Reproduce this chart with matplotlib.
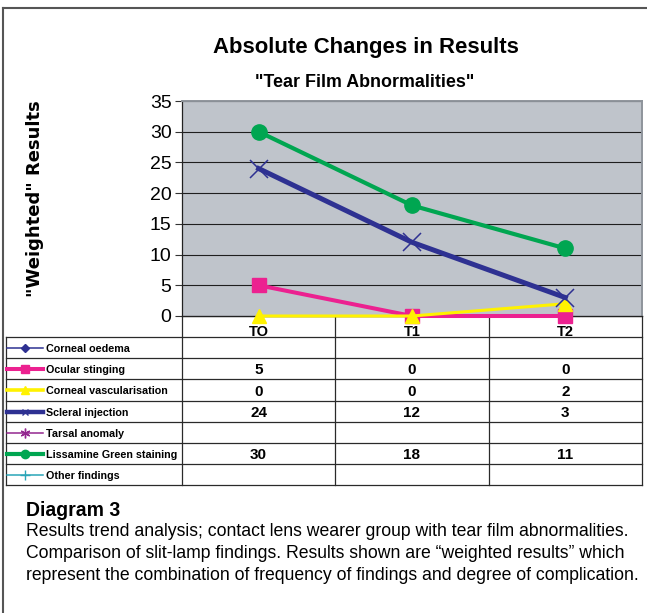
import math
import matplotlib
matplotlib.use('Agg')
import matplotlib.pyplot as plt
from matplotlib import font_manager as fm
from matplotlib.transforms import blended_transform_factory

# ---------------- data ----------------
categories = ['TO', 'T1', 'T2']
series_names = ['Corneal oedema', 'Ocular stinging', 'Corneal vascularisation',
                'Scleral injection', 'Tarsal anomaly', 'Lissamine Green staining',
                'Other findings']
corneal_oedema = [None, None, None]
ocular_stinging = [5, 0, 0]
corneal_vascularisation = [0, 0, 2]
scleral_injection = [24, 12, 3]
tarsal_anomaly = [None, None, None]
lissamine_green = [30, 18, 11]
other_findings = [None, None, None]
y_ticks = [0, 5, 10, 15, 20, 25, 30, 35]

title = 'Absolute Changes in Results'
subtitle = '"Tear Film Abnormalities"'
y_label = '"Weighted" Results'
caption_head = 'Diagram 3'
caption_lines = [
    'Results trend analysis; contact lens wearer group with tear film abnormalities.',
    'Comparison of slit-lamp findings. Results shown are \u201cweighted results\u201d which',
    'represent the combination of frequency of findings and degree of complication.',
]

series_values = [corneal_oedema, ocular_stinging, corneal_vascularisation,
                 scleral_injection, tarsal_anomaly, lissamine_green, other_findings]

# ---------------- styles ----------------
styles = [
    dict(color='#2E3192', lw=1.1, marker='D', ms=4.5, leg_lw=1.1, leg_ms=4.5, mew=1),
    dict(color='#EC2190', lw=2.9, marker='s', ms=10.5, leg_lw=2.9, leg_ms=6, mew=1),
    dict(color='#FFF200', lw=2.2, marker='^', ms=9.5, leg_lw=2.6, leg_ms=6, mew=1),
    dict(color='#2E3192', lw=3.6, marker='x', ms=13, leg_lw=3.2, leg_ms=5, mew=1.1),
    dict(color='#93278F', lw=1.1, marker=(6, 2, 0), ms=7, leg_lw=1.1, leg_ms=7, mew=1),
    dict(color='#00A651', lw=3.0, marker='o', ms=11, leg_lw=3.0, leg_ms=6, mew=1),
    dict(color='#2AA5B8', lw=1.1, marker='+', ms=7, leg_lw=1.1, leg_ms=7, mew=1),
]

names = {f.name for f in fm.fontManager.ttflist}
NARROW = 'Liberation Sans Narrow' if 'Liberation Sans Narrow' in names else 'Liberation Sans'
REG = 'Liberation Sans'

W, H = 647, 613
fig = plt.figure(figsize=(W / 100, H / 100), dpi=100)
renderer = fig.canvas.get_renderer()


def fit_width(t, width):
    w = t.get_window_extent(renderer).width
    t.set_fontsize(t.get_fontsize() * width / w)
    return t.get_fontsize()


def fit_height(t, height):
    h = t.get_window_extent(renderer).height
    t.set_fontsize(t.get_fontsize() * height / h)
    return t.get_fontsize()


# overlay axes in pixel coordinates
ov = fig.add_axes([0, 0, 1, 1], zorder=0)
ov.set_xlim(0, W)
ov.set_ylim(H, 0)
ov.axis('off')

# main plot axes
PL, PR, PT, PB = 182, 642, 101, 316
ax = fig.add_axes([PL / W, 1 - PB / H, (PR - PL) / W, (PB - PT) / H], zorder=2)
ax.set_facecolor('#BFC4CB')
ax.set_xlim(-0.5, len(categories) - 0.5)
ax.set_ylim(0, 35)
ax.set_yticks(y_ticks)
ax.set_xticks([])
ax.yaxis.grid(True, color='#1e1e1e', lw=0.8)
ax.set_axisbelow(True)
for s in ['left', 'bottom']:
    ax.spines[s].set_color('#222222')
    ax.spines[s].set_linewidth(0.9)
for s in ['top', 'right']:
    ax.spines[s].set_color('#8E949B')
    ax.spines[s].set_linewidth(1.4)
ax.tick_params(axis='y', direction='out', length=5, width=0.8, color='#333333',
               pad=2.5, labelsize=14)
for lab in ax.get_yticklabels():
    lab.set_family(REG)

xs = list(range(len(categories)))
for i, (vals, st) in enumerate(zip(series_values, styles)):
    yv = [math.nan if v is None else v for v in vals]
    ax.plot(xs, yv, color=st['color'], lw=st['lw'], marker=st['marker'], ms=st['ms'],
            mew=st['mew'], mec=st['color'], mfc=st['color'], clip_on=False, zorder=3 + i,
            solid_joinstyle='round')

# ---------------- table ----------------
LINE = '#2a2a2a'
row_edges = [337, 358, 379, 401, 422, 443, 464, 485]
TL = 6
ov.plot([PL, PR], [PB, PB], color=LINE, lw=0.9)
for y in row_edges:
    ov.plot([TL, PR], [y, y], color=LINE, lw=0.9)
ov.plot([TL, TL], [row_edges[0], row_edges[-1]], color=LINE, lw=0.9)
ov.plot([PL, PL], [PB, row_edges[-1]], color=LINE, lw=0.9)
ov.plot([PR, PR], [PB, row_edges[-1]], color=LINE, lw=0.9)
bt = blended_transform_factory(ax.transData, ov.transData)
for b in [0.5, 1.5]:
    ov.plot([b, b], [PB, row_edges[-1]], color=LINE, lw=0.9, transform=bt)

# header labels (drawn above the plot so markers never hide them)
top = fig.add_axes([0, 0, 1, 1], zorder=5)
top.set_xlim(0, W)
top.set_ylim(H, 0)
top.axis('off')
bt_top = blended_transform_factory(ax.transData, top.transData)
for j, c in enumerate(categories):
    top.text(j, 336, c, transform=bt_top, ha='center', va='baseline', family=NARROW,
             fontweight='bold', fontsize=10.5)

# row labels + legend keys + values
probe = ov.text(46, 0, 'Lissamine Green staining', family=NARROW, fontweight='bold',
                fontsize=10)
lab_fs = fit_width(probe, 132)
probe.remove()
for i, (name, vals, st) in enumerate(zip(series_names, series_values, styles)):
    yc = (row_edges[i] + row_edges[i + 1]) / 2
    ov.plot([7, 25, 43], [yc, yc, yc], color=st['color'], lw=st['leg_lw'],
            marker=st['marker'], ms=st['leg_ms'], markevery=[1], mec=st['color'],
            mfc=st['color'], mew=1)
    ov.text(46, yc + 4.5, name, family=NARROW, fontweight='bold', fontsize=lab_fs,
            va='baseline', ha='left')
    for j, v in enumerate(vals):
        if v is not None:
            ov.text(j, yc + 5.5, str(v), transform=bt, ha='center', va='baseline',
                    family=NARROW, fontweight='bold', fontsize=11)

# ---------------- titles ----------------
t = ov.text(366, 53, title, ha='center', va='baseline', family=NARROW,
            fontweight='bold', fontsize=16)
fit_width(t, 305)
t = ov.text(365, 87, subtitle, ha='center', va='baseline', family=NARROW,
            fontweight='bold', fontsize=12)
fit_width(t, 217)
t = ov.text(35, 198.5, y_label, ha='center', va='center', rotation=90,
            family='DejaVu Sans', fontweight='bold', fontsize=12)
fit_height(t, 197)

# ---------------- caption ----------------
t = ov.text(26, 516, caption_head, ha='left', va='baseline', family=NARROW,
            fontweight='bold', fontsize=12)
fit_width(t, 94)
probes = [ov.text(0, 0, line, family=NARROW, fontsize=12) for line in caption_lines]
widest = max(p.get_window_extent(renderer).width for p in probes)
cfs = 12 * 614 / widest
for p in probes:
    p.remove()
for k, line in enumerate(caption_lines):
    ov.text(26, 536.5 + 22 * k, line, ha='left', va='baseline', family=NARROW,
            fontsize=cfs)

# outer frame
ov.plot([3, 3], [7.5, H], color='#555555', lw=1.5)
ov.plot([3, W], [7.5, 7.5], color='#555555', lw=1.5)

fig.savefig('out.png', dpi=100)
